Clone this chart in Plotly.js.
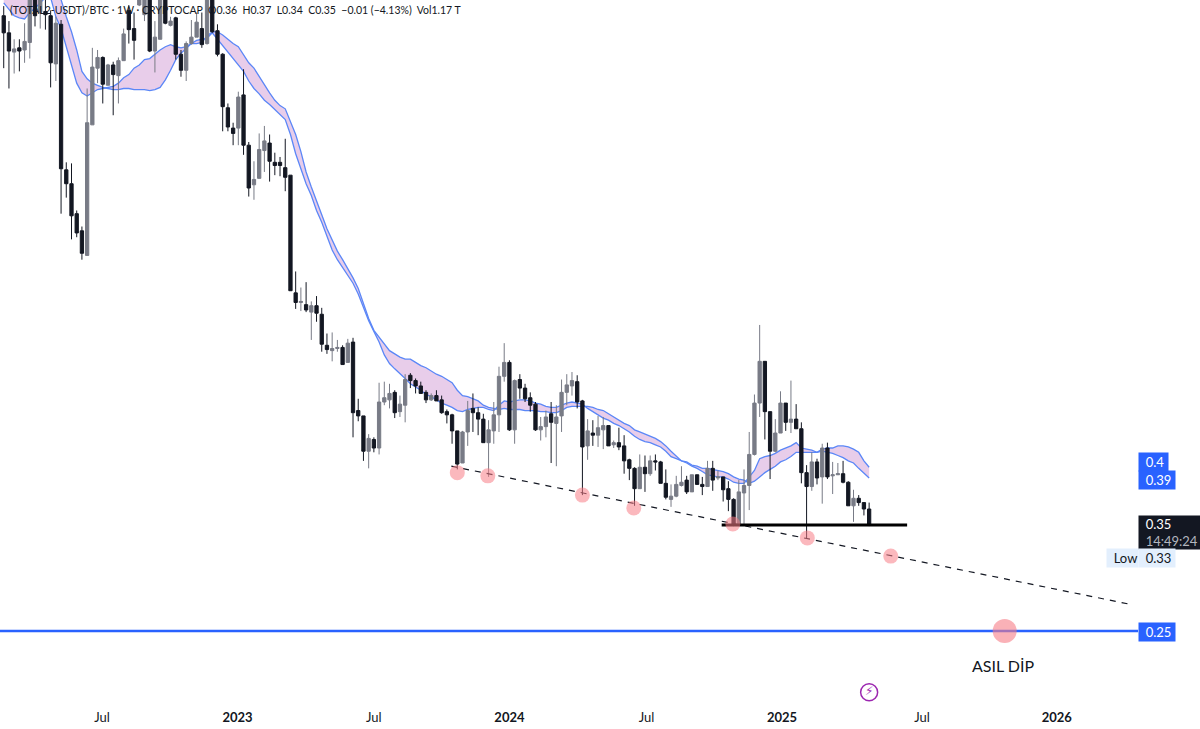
<!DOCTYPE html>
<html><head><meta charset="utf-8">
<script src="https://cdn.plot.ly/plotly-3.0.1.min.js"></script>
<style>html,body{margin:0;padding:0;background:#fff}</style></head>
<body><div id="chart" style="width:1200px;height:729px"></div>
<script>
const firstWeek = '2022-02-21';
const opens = [
.825,.809,.791,.795,.793,.800,.86,.828,.829,.825,
.780,.817,.681,.668,.640,.624,.601,.723,.776,.786,
.760,.779,.769,.783,.83,.813,.835,.826,.86,.792,
.803,.85,.816,.823,.789,.774,.799,.805,.813,.799,
.85,.811,.789,.739,.720,.720,.751,.704,.667,.673,
.699,.706,.688,.688,.683,.676,.566,.557,.555,.548,
.554,.546,.517,.512,.514,.515,.501,.520,.456,.451,
.418,.429,.421,.464,.466,.473,.455,.461,.489,.484,
.479,.473,.466,.470,.466,.455,.452,.437,.407,.436,
.458,.454,.448,.426,.437,.452,.488,.501,.438,.485,
.477,.468,.462,.438,.441,.453,.444,.451,.473,.479,
.483,.465,.423,.435,.433,.438,.442,.424,.426,.423,
.410,.402,.383,.403,.397,.409,.408,.388,.373,.376,
.386,.391,.380,.396,.387,.385,.402,.393,.394,.383,
.373,.350,.379,.386,.415,.463,.502,.455,.418,.435,
.463,.445,.448,.439,.398,.385,.408,.394,.421,.395,
.396,.397,.389,.367,.374,.370,.364];
const closes = [
.809,.792,.794,.792,.801,.85,.825,.85,.826,.781,
.818,.682,.668,.638,.622,.603,.725,.777,.786,.761,
.779,.770,.783,.808,.812,.802,.86,.86,.792,.805,
.85,.818,.82,.789,.774,.799,.805,.819,.798,.85,
.810,.789,.740,.721,.715,.749,.704,.664,.672,.700,
.708,.689,.685,.685,.674,.568,.557,.558,.550,.554,
.547,.518,.513,.514,.515,.499,.519,.454,.451,.418,
.430,.421,.464,.468,.472,.454,.462,.485,.484,.479,
.472,.466,.470,.465,.454,.452,.437,.406,.436,.456,
.454,.448,.426,.438,.452,.488,.501,.438,.484,.477,
.467,.461,.438,.441,.45,.445,.45,.473,.480,.484,
.464,.422,.437,.433,.440,.442,.423,.426,.422,.409,
.402,.383,.403,.397,.409,.408,.388,.375,.376,.387,
.389,.380,.396,.387,.385,.402,.391,.394,.382,.373,
.350,.380,.386,.415,.463,.502,.455,.418,.435,.463,
.445,.448,.439,.398,.385,.408,.393,.421,.394,.396,
.397,.389,.367,.374,.370,.364,.349];
const highs = [
.834,.820,.803,.803,.818,.86,.87,.86,.845,.83,
.824,.821,.688,.687,.643,.628,.757,.795,.793,.787,
.780,.782,.786,.813,.835,.828,.87,.87,.87,.82,
.86,.86,.824,.824,.793,.801,.821,.828,.828,.86,
.86,.817,.79,.743,.725,.754,.775,.707,.689,.715,
.722,.714,.697,.693,.710,.676,.586,.571,.576,.558,
.563,.552,.528,.529,.522,.517,.523,.524,.467,.451,
.434,.431,.482,.483,.481,.475,.470,.490,.491,.486,
.483,.475,.472,.475,.470,.457,.453,.437,.437,.465,
.472,.459,.453,.447,.464,.497,.519,.503,.485,.490,
.481,.473,.464,.45,.456,.464,.461,.485,.490,.492,
.489,.466,.448,.447,.451,.450,.442,.428,.440,.433,
.411,.403,.415,.414,.414,.415,.409,.401,.387,.395,
.404,.395,.396,.396,.394,.409,.409,.400,.394,.39,
.374,.391,.401,.436,.471,.536,.502,.455,.448,.474,
.463,.484,.462,.445,.405,.417,.411,.425,.426,.408,
.407,.409,.39,.382,.377,.370,.370];
const lows = [
.776,.757,.771,.773,.781,.785,.815,.813,.812,.758,
.764,.640,.655,.616,.618,.597,.601,.723,.762,.743,
.760,.732,.743,.783,.799,.784,.834,.820,.791,.772,
.803,.817,.815,.784,.768,.764,.798,.805,.795,.798,
.809,.787,.717,.717,.704,.704,.695,.656,.653,.673,
.679,.670,.676,.675,.661,.568,.551,.549,.548,.522,
.539,.511,.509,.502,.511,.499,.501,.431,.446,.409,
.402,.417,.415,.461,.458,.449,.450,.445,.477,.472,
.472,.463,.465,.465,.453,.444,.425,.401,.407,.423,
.436,.433,.426,.394,.425,.436,.483,.437,.425,.467,
.464,.455,.437,.428,.431,.407,.404,.436,.461,.47,
.458,.377,.410,.423,.422,.42,.423,.421,.419,.397,
.391,.367,.383,.380,.395,.400,.388,.373,.366,.375,
.385,.378,.380,.387,.377,.385,.381,.391,.371,.362,
.348,.349,.350,.363,.414,.450,.429,.392,.417,.435,
.437,.435,.439,.388,.336,.381,.387,.369,.392,.378,
.396,.388,.367,.352,.367,.358,.348];
const emaFast = [
.837,.831,.825,.823,.822,.828,.832,.837,.842,.842,
.824,.813,.796,.781,.762,.753,.750,.753,.756,.757,
.758,.759,.762,.767,.770,.776,.779,.784,.785,.789,
.793,.796,.798,.796,.795,.796,.799,.802,.803,.804,
.809,.803,.796,.790,.784,.779,.773,.764,.757,.752,
.746,.742,.737,.732,.728,.714,.696,.682,.668,.657,
.643,.632,.618,.606,.597,.590,.583,.575,.565,.553,
.540,.530,.520,.508,.500,.495,.490,.486,.481,.478,
.475,.471,.469,.466,.463,.461,.459,.456,.455,.457,
.458,.459,.459,.457,.456,.461,.465,.464,.465,.466,
.466,.465,.463,.462,.460,.459,.459,.461,.463,.464,
.463,.462,.458,.455,.452,.449,.447,.444,.442,.439,
.436,.432,.429,.427,.426,.424,.422,.418,.413,.411,
.409,.407,.404,.402,.399,.396,.395,.394,.394,.392,
.389,.388,.388,.394,.400,.411,.413,.414,.416,.419,
.421,.423,.426,.421,.420,.419,.417,.420,.421,.421,
.423,.423,.422,.420,.417,.409,.403];
const emaSlow = [
.868,.867,.866,.865,.864,.863,.862,.861,.860,.855,
.848,.84,.824,.810,.793,.773,.766,.762,.760,.758,
.757,.756,.756,.757,.757,.756,.756,.756,.755,.756,
.758,.765,.774,.784,.790,.795,.799,.799,.800,.806,
.810,.810,.807,.803,.799,.796,.789,.781,.776,.768,
.760,.753,.746,.741,.738,.726,.714,.698,.679,.665,
.651,.639,.626,.615,.605,.597,.589,.580,.570,.556,
.542,.531,.525,.519,.512,.509,.506,.504,.504,.501,
.498,.496,.493,.490,.488,.485,.482,.475,.470,.469,
.467,.465,.461,.459,.458,.457,.458,.457,.457,.457,
.456,.456,.456,.455,.455,.454,.454,.456,.459,.460,
.460,.460,.460,.459,.457,.456,.453,.450,.447,.444,
.442,.438,.436,.434,.432,.430,.427,.423,.418,.413,
.409,.408,.405,.404,.402,.402,.401,.400,.399,.397,
.394,.392,.391,.388,.390,.394,.398,.401,.404,.408,
.410,.413,.417,.417,.417,.417,.417,.418,.417,.416,
.414,.412,.409,.407,.402,.397,.393];
const touchDates = ['2023-10-23','2023-12-03','2024-04-08','2024-06-16','2024-10-27','2025-02-04','2025-05-27'];
const touchPrices = [.398,.395,.377,.365,.350,.337,.320];
const dipDate = ['2025-10-27'];
const dipPrice = [.25];
const trendDates = ['2023-10-15','2026-04-13'];
const trendPrices = [.404,.275];
const supportDates = ['2024-10-12','2025-06-18'];
const supportPrices = [.349,.349];
const xRange = ['2022-02-16','2026-04-24'];
const yRange = [.1827,.8397];
const tickDates = ['2022-07-03','2023-01-01','2023-07-03','2024-01-01','2024-07-03','2025-01-01','2025-07-08','2026-01-05'];
const tickLabels = ['Jul','<b>2023</b>','Jul','<b>2024</b>','Jul','<b>2025</b>','Jul','<b>2026</b>'];
const legendText = '(TOTAL2-USDT)/BTC · 1W · CRYPTOCAP\u00a0\u00a0O0.36\u00a0\u00a0H0.37\u00a0\u00a0L0.34\u00a0\u00a0C0.35\u00a0\u00a0−0.01 (−4.13%)\u00a0\u00a0Vol1.17 T';

const dates = opens.map((_, i) => {
  const d = new Date(firstWeek + 'T00:00:00Z');
  d.setUTCDate(d.getUTCDate() + 7 * i);
  return d.toISOString().slice(0, 10);
});
const UP = '#787b86', DOWN = '#131722', BLUE = '#2962ff', FONT = 'Lato, sans-serif';

const traces = [
  {type:'scatter', mode:'lines', x:dates, y:emaSlow, yaxis:'y', line:{color:'#5b87f7', width:1.3}, hoverinfo:'skip'},
  {type:'scatter', mode:'lines', x:dates, y:emaFast, yaxis:'y', line:{color:'#5b87f7', width:1.3}, fill:'tonexty', fillcolor:'#e8cdea', hoverinfo:'skip'},
  {type:'scatter', mode:'lines', x:xRange, y:[.25,.25], yaxis:'y', line:{color:BLUE, width:2.5}, hoverinfo:'skip'},
  {type:'candlestick', x:dates, open:opens, high:highs, low:lows, close:closes, yaxis:'y2',
    increasing:{line:{color:UP, width:1}, fillcolor:UP},
    decreasing:{line:{color:DOWN, width:1}, fillcolor:DOWN}, whiskerwidth:0},
  {type:'scatter', mode:'lines', x:trendDates, y:trendPrices, yaxis:'y2', line:{color:'#131722', width:1.2, dash:'6px,6px'}, hoverinfo:'skip'},
  {type:'scatter', mode:'lines', x:supportDates, y:supportPrices, yaxis:'y2', line:{color:'#000', width:3}, hoverinfo:'skip'},
  {type:'scatter', mode:'markers', x:touchDates, y:touchPrices, yaxis:'y2', marker:{size:15, color:'rgba(247,125,135,0.55)'}, hoverinfo:'skip'},
  {type:'scatter', mode:'markers', x:dipDate, y:dipPrice, yaxis:'y2', marker:{size:24, color:'rgba(247,125,135,0.6)'}, hoverinfo:'skip'},
  {type:'scatter', mode:'markers+text', x:['2025-04-28'], y:[.1927], yaxis:'y2', text:['⚡'], textposition:'middle center',
    textfont:{size:12, color:'#9c27b0', family:'DejaVu Sans'},
    marker:{size:17, color:'rgba(0,0,0,0)', line:{color:'#9c27b0', width:1.5}}, hoverinfo:'skip'}
];

function tag(text, pxX, pxY, w, h, bg, color) {
  return {xref:'paper', yref:'paper', x:pxX/1138, y:1-pxY/703, xanchor:'left', yanchor:'top', showarrow:false,
    text:text, width:w, height:h, align:'left', valign:'middle', bgcolor:bg, borderpad:0,
    font:{family:FONT, size:13, color:color}};
}
const annotations = [
  {xref:'paper', yref:'paper', x:8/1138, y:1-10/703, xanchor:'left', yanchor:'middle', showarrow:false, text:legendText,
   font:{family:FONT, size:10.5, color:'#131722'}},
  {xref:'x', yref:'y2', x:'2025-10-25', y:.2179, showarrow:false, text:'ASIL DİP', font:{family:FONT, size:16, color:'#131722'}},
  tag('\u00a0\u00a00.4', 1138, 452, 29, 18, BLUE, '#fff'),
  tag('\u00a0\u00a00.39', 1138, 470, 36, 18, BLUE, '#fff'),
  tag('\u00a0\u00a00.35<br>\u00a0\u00a0<span style="color:#b2b5be">14:49:24</span>', 1138, 515, 61, 33, '#131722', '#fff'),
  tag('\u00a0\u00a0Low', 1106, 548, 31, 18, '#e3effd', '#131722'),
  tag('\u00a0\u00a00.33', 1138, 548, 36, 18, '#e3effd', '#131722'),
  tag('\u00a0\u00a00.25', 1138, 622, 36, 18, BLUE, '#fff')
];

Plotly.newPlot('chart', traces, {
  width:1200, height:729, showlegend:false, paper_bgcolor:'#fff', plot_bgcolor:'#fff',
  margin:{l:0, r:62, t:0, b:26, pad:0}, boxgap:0.1,
  xaxis:{type:'date', range:xRange, tickmode:'array', tickvals:tickDates, ticktext:tickLabels, ticks:'outside', ticklen:2, tickcolor:'rgba(0,0,0,0)', showgrid:false, zeroline:false,
    rangeslider:{visible:false}, tickfont:{family:FONT, size:13, color:'#131722'}, tickangle:0},
  yaxis:{range:yRange, showticklabels:false, ticks:'', showgrid:false, zeroline:false, showline:true, linecolor:'#b2b5be', linewidth:1},
  yaxis2:{range:yRange, overlaying:'y', visible:false, showgrid:false, zeroline:false},
  annotations:annotations
}, {displayModeBar:false, staticPlot:true});
</script></body></html>
